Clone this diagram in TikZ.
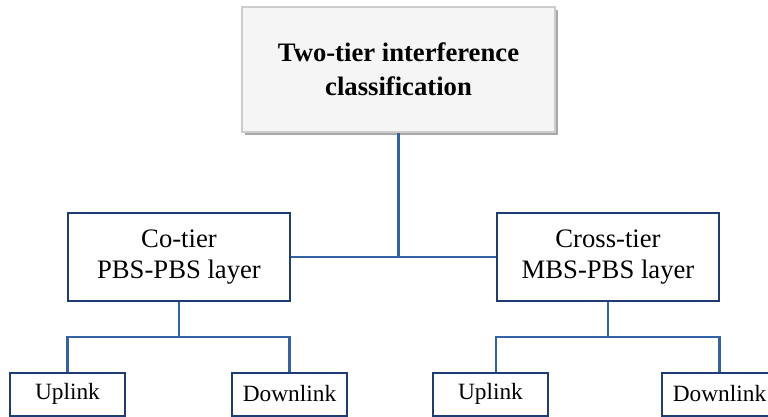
\documentclass[tikz,border=0pt]{standalone}
\usepackage{fontspec}
\setmainfont{Liberation Serif}
\usetikzlibrary{shadows}
\definecolor{boxline}{HTML}{203C74}
\definecolor{conn}{HTML}{3462A8}
\begin{document}
\begin{tikzpicture}[x=0.75pt,y=-0.75pt,
  topbox/.style={draw=gray!40, line width=0.8pt, fill=gray!8, minimum width=313*0.75pt, minimum height=125*0.75pt, align=center, inner sep=0pt,
    drop shadow={shadow xshift=2.2pt, shadow yshift=-2.2pt, fill=gray!75, opacity=0.9},
    font=\fontsize{20}{25.5}\selectfont\bfseries},
  midbox/.style={draw=boxline, line width=1.5pt, fill=white, minimum width=222*0.75pt, minimum height=88*0.75pt, align=center, inner sep=0pt,
    font=\fontsize{20}{23.5}\selectfont},
  leafbox/.style={draw=boxline, line width=1.5pt, fill=white, minimum width=115*0.75pt, minimum height=43*0.75pt, inner sep=0pt,
    font=\fontsize{17.5}{20}\selectfont},
  link/.style={draw=conn, line width=1.6pt}]
\useasboundingbox (0,0) rectangle (768,417);
\node[topbox] (top) at (398.5,69.5) {Two-tier interference\\classification};
\node[midbox] (co) at (179,257) {Co-tier\\PBS-PBS layer};
\node[midbox] (cross) at (608,257) {Cross-tier\\MBS-PBS layer};
\node[leafbox] (ul1) at (67.5,394) {\raisebox{-2pt}{Uplink}};
\node[leafbox] (dl1) at (289.5,394) {\raisebox{-2pt}{Downlink}};
\node[leafbox] (ul2) at (490.5,394) {\raisebox{-2pt}{Uplink}};
\node[leafbox] (dl2) at (719.5,394) {\raisebox{-2pt}{Downlink}};
\coordinate (jl) at (179,337);
\coordinate (jr) at (608,337);
\path[link] (top.south) -- (top.south |- co.east);
\path[link] (co.east) -- (cross.west);
\path[link] (co.south) -- (jl);
\path[link] (ul1.north) |- (jl) -| (dl1.north);
\path[link] (cross.south) -- (jr);
\path[link] (ul2.north -| cross.west) |- (jr) -| (dl2.north);
\end{tikzpicture}
\end{document}
